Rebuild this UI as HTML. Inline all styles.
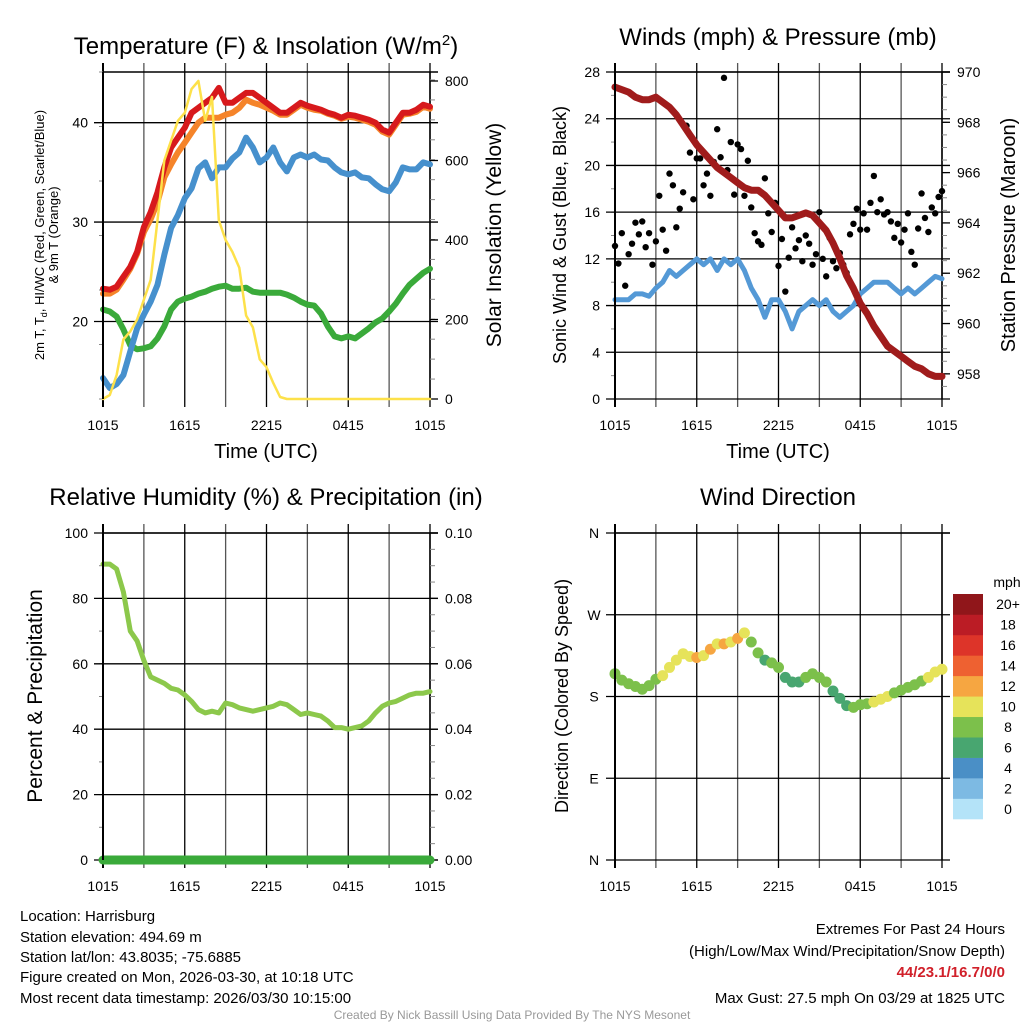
<!DOCTYPE html>
<html><head><meta charset="utf-8">
<style>
html,body{margin:0;padding:0;background:#fff;}
svg{display:block;font-family:"Liberation Sans",sans-serif;}
</style></head>
<body>
<svg id="chart" width="1024" height="1024" viewBox="0 0 1024 1024" xmlns="http://www.w3.org/2000/svg">
<rect width="1024" height="1024" fill="#fff"/>
<g id="panels"></g>
<g font-size="15" fill="#000">
<text x="20" y="921">Location: Harrisburg</text>
<text x="20" y="942">Station elevation: 494.69 m</text>
<text x="20" y="962">Station lat/lon: 43.8035; -75.6885</text>
<text x="20" y="982">Figure created on Mon, 2026-03-30, at 10:18 UTC</text>
<text x="20" y="1003">Most recent data timestamp: 2026/03/30 10:15:00</text>
</g>
<g font-size="15" text-anchor="end">
<text x="1005" y="934">Extremes For Past 24 Hours</text>
<text x="1005" y="956">(High/Low/Max Wind/Precipitation/Snow Depth)</text>
<text x="1005" y="977" fill="#d1202a" font-weight="bold">44/23.1/16.7/0/0</text>
<text x="1005" y="1003">Max Gust: 27.5 mph On 03/29 at 1825 UTC</text>
</g>
<text x="512" y="1019" text-anchor="middle" font-size="12" fill="#999">Created By Nick Bassill Using Data Provided By The NYS Mesonet</text>
</svg>
<script>
// ---- data (30-min steps, 1015 UTC -> 1015 UTC) ----
const timeLabels = ["1015","1615","2215","0415","1015"];
const tempRed = [23.3,23.2,23.5,24.5,25.5,27,29.5,31,33,35.5,37.5,38.5,39.5,41,41.5,42,42.5,43.5,42,42,42.5,43,43,42.5,42,41.5,41,41,41.5,42,41.7,41.5,41.3,41,40.8,40.5,40.8,40.7,40.5,40.3,40,39.3,39,40,41,41,41.3,41.8,41.6];
const temp9m = [22.8,22.8,23.2,24.2,25.3,26.8,29,30.3,32,34.5,35.8,37,38,39,40,40.5,40.5,40.5,40.8,41,41.5,42.3,42,41.8,41.5,41.2,40.8,40.8,41.3,41.8,41.5,41.3,41.2,40.9,40.7,40.4,40.6,40.5,40.3,40.1,39.8,39.1,38.8,39.8,40.8,40.9,41.1,41.6,41.4];
const windChill = [14.3,13.3,13.7,14.6,17,19.3,20.7,22,23.7,26.7,29.4,30.7,32.4,33.4,35.4,36,34.4,35.5,35.5,36.4,37,38.5,37.5,36,36.5,37.5,36,35.1,36.5,36.8,36.5,36.8,36.3,36.2,35.5,35,34.8,35,34.5,34.4,33.8,33.3,33.1,34,35.5,35.3,35.3,36,35.8];
const dewPoint = [21.2,21,20.5,19.2,17.6,17.2,17.3,17.5,18.3,19.5,21.2,22,22.3,22.5,22.8,23,23.3,23.5,23.6,23.3,23.3,23.4,23,22.9,22.9,22.9,22.9,22.7,22.4,22,21.7,21.6,20.8,19.5,18.5,18.3,18.5,18.3,18.8,19.3,19.9,20.3,21,21.8,22.8,23.7,24.3,24.9,25.3];
const solar = [0,10,60,150,170,200,250,300,450,600,650,700,720,780,800,700,760,450,400,370,330,210,180,100,80,40,5,0,0,0,0,0,0,0,0,0,0,0,0,0,0,0,0,0,0,0,0,0,0];
const windSpeed = [8.5,8.5,8.5,9,9,8.8,9.5,10,11,10.5,11,11.5,12,11.5,12,11,12,11.5,12,11,9.5,8.5,7,8.5,8.5,7.5,6,7.5,8,8.5,8,8.5,7.5,7,7.5,8,9,9.5,10,10,10,9.5,9,9.5,9,9.5,10,10.5,10.3];
const pressure = [969.4,969.3,969.2,969.0,968.9,968.9,969.0,968.8,968.6,968.3,967.9,967.5,967.1,966.8,966.5,966.2,966.0,965.8,965.6,965.4,965.3,965.3,965.1,964.8,964.5,964.2,964.2,964.3,964.4,964.3,964.0,963.7,963.2,962.6,961.9,961.4,960.8,960.4,959.9,959.5,959.1,958.9,958.7,958.5,958.3,958.2,958.0,957.9,957.9];
// gusts at 15-min steps
const gusts = [13.1,11.6,14.2,9.7,12.4,13.3,15.1,14.1,15.2,13.0,14.2,11.5,13.5,17.4,14.5,12.7,19.3,18.3,14.7,16.3,17.7,23.4,21.1,17.1,20.6,20.6,18.3,19.3,17.4,20.3,23.1,20.7,27.5,19.6,22.0,17.5,21.8,21.4,17.4,20.4,16.4,14.2,13.5,13.2,18.9,15.9,14.3,16.8,11.4,13.7,9.2,12.1,14.7,12.9,13.6,11.8,14.0,13.3,11.5,12.4,16.0,12.0,10.5,13.8,11.8,11.2,12.5,11.5,10.8,14.1,15.0,16.3,14.5,15.9,14.5,16.8,19.1,16.0,17.1,15.8,16.0,15.2,13.8,15.0,13.4,14.5,15.9,12.6,11.5,14.6,17.6,15.5,14.3,16.4,15.9,17.3,17.8];
const relHum = [90.5,90.5,89,82,70,67,61,56,55,54,52.5,52,50.5,48.5,46,45,45.5,45,48,47.5,46.5,46,45.5,46,46.5,47,48,47.5,46,44.5,45,44.5,44,42.5,40.5,40.5,40,40.5,41,42.5,45,47,48,48.5,49.5,50.5,51,51,51.5];
const precip = [0,0,0,0,0,0,0,0,0,0,0,0,0,0,0,0,0,0,0,0,0,0,0,0,0,0,0,0,0,0,0,0,0,0,0,0,0,0,0,0,0,0,0,0,0,0,0,0,0];
const windDir = [205,198,194,191,188,192,199,203,212,220,227,224,223,225,232,238,238,240,244,250,240,228,220,217,212,201,196,196,201,205,201,196,186,178,170,168,171,172,174,177,180,184,187,190,193,197,201,207,210];
const speedBins = ["0","2","4","6","8","10","12","14","16","18","20+"];
const binColors = ["#b4e3f8","#7dbae3","#4a8fc6","#48a670","#7cc04b","#e6e35a","#f6a641","#ee6131","#dd3429","#bb1c25","#90161a"];

const NS="http://www.w3.org/2000/svg";
const root=document.getElementById('panels');
function el(tag,attrs,parent){const e=document.createElementNS(NS,tag);for(const k in attrs)e.setAttribute(k,attrs[k]);(parent||root).appendChild(e);return e;}
function txt(s,attrs,parent){const e=el('text',attrs,parent);e.textContent=s;return e;}

function frame(g,P){
  for(let h=0;h<=8;h++){
    const x=P.x0+h*(P.x1-P.x0)/8;
    const l=el('line',{x1:x,x2:x,y1:P.y0-9,y2:P.y1+8,stroke:(h%2?"#555":"#000"),'stroke-width':(h==0?2:1.3)},g);
    
    
  }
  for(let i=0;i<timeLabels.length;i++){
    const x=P.x0+i*(P.x1-P.x0)/4;
    const t=txt(timeLabels[i],{x:x,y:P.y1+31,'text-anchor':'middle','font-size':14},g);
    
    
  }
  el('line',{x1:P.x0,x2:P.x1+8,y1:P.y0,y2:P.y0,stroke:"#000",'stroke-width':1.5},g);
  el('line',{x1:P.x1,x2:P.x1,y1:P.y0,y2:P.y1,stroke:"#000",'stroke-width':1.5},g);
}
function yTicks(g,P,vals,lo,hi,side,fmt){
  for(const v of vals){
    const y=P.y1-(v-lo)/(hi-lo)*(P.y1-P.y0);
    if(side==='left'){
      const l=el('line',{x1:P.x0-9,x2:P.x1+8,y1:y,y2:y,stroke:"#000",'stroke-width':1.3},g);
      
      
      const t=txt(fmt(v),{x:P.x0-15,y:y+5,'text-anchor':'end','font-size':14},g);
      
      
    } else {
      el('line',{x1:P.x1,x2:P.x1+8,y1:y,y2:y,stroke:"#000",'stroke-width':1.3},g);
      const t=txt(fmt(v),{x:P.x1+15,y:y+5,'text-anchor':'start','font-size':14},g);
      
      
    }
  }
}
function minor(g,P,lo,hi,step,side){
  for(let v=Math.ceil(lo/step)*step;v<=hi+1e-9;v+=step){
    const y=P.y1-(v-lo)/(hi-lo)*(P.y1-P.y0);
    if(side==='left') el('line',{x1:P.x0-4,x2:P.x0,y1:y,y2:y,stroke:"#888",'stroke-width':1},g);
    else el('line',{x1:P.x1,x2:P.x1+5,y1:y,y2:y,stroke:"#888",'stroke-width':1},g);
  }
}
function path(g,P,arr,lo,hi,color,w,name){
  const n=arr.length;
  const d=arr.map((v,i)=>(i?'L':'M')+(P.x0+i*(P.x1-P.x0)/(n-1)).toFixed(1)+','+(P.y1-(v-lo)/(hi-lo)*(P.y1-P.y0)).toFixed(1)).join('');
  const p=el('path',{d:d,fill:'none',stroke:color,'stroke-width':w,'stroke-linejoin':'round','stroke-linecap':'round'},g);
  
  
  return p;
}
function title(g,s,x,y,name,size){const t=txt(s,{x:x,y:y,'text-anchor':'middle','font-size':size||24},g);return t;}
function vtitle(g,s,x,y,name,size){const t=txt(s,{x:0,y:0,'text-anchor':'middle','font-size':size,transform:`translate(${x},${y}) rotate(-90)`},g);return t;}

// ---------- Panel 1: temperature ----------
{
const P={x0:103,x1:430,y0:72,y1:399};
const g=el('g',{});


const lo=12.2,hi=45.1;
frame(g,P);
minor(g,P,15,45,5,'left');
minor(g,P,0,820,50,'right');
yTicks(g,P,[20,30,40],lo,hi,'left',v=>v);
const sLo=0,sHi=(P.y1-P.y0)/(79.5/200);
yTicks(g,P,[0,200,400,600,800],sLo,sHi,'right',v=>v);
path(g,P,dewPoint,lo,hi,"#3aaa3a",6,'dewpoint-line');
path(g,P,windChill,lo,hi,"#4690cd",6,'windchill-line');
path(g,P,temp9m,lo,hi,"#f5842a",6,'temp-9m-line');
path(g,P,tempRed,lo,hi,"#d7191c",6,'temp-2m-line');
path(g,P,solar,sLo,sHi,"#fde14a",2.5,'solar-line');
el('line',{x1:P.x0,x2:P.x0,y1:P.y0,y2:P.y1,stroke:"#000",'stroke-width':2},g);
const t=txt('',{x:266,y:54,'text-anchor':'middle','font-size':24},g);


t.innerHTML='Temperature (F) &amp; Insolation (W/m<tspan dy="-9" font-size="15">2</tspan><tspan dy="9">)</tspan>';
title(g,'Time (UTC)',266,458,'x-axis-title',20);
const lt=txt('',{x:0,y:0,'text-anchor':'middle','font-size':13,transform:'translate(44,235) rotate(-90)'},g);


lt.innerHTML='2m T, T<tspan dy="3" font-size="9">d</tspan><tspan dy="-3">, HI/WC (Red, Green, Scarlet/Blue)</tspan>';
vtitle(g,'& 9m T (Orange)',58,235,'y-axis-title-line2',13);
vtitle(g,'Solar Insolation (Yellow)',501,235,'y2-axis-title',21);
}
// ---------- Panel 2: winds ----------
{
const P={x0:615,x1:942,y0:72,y1:399};
const g=el('g',{});


frame(g,P);
minor(g,P,0,28,2,'left');
minor(g,P,957,970,0.5,'right');
yTicks(g,P,[0,4,8,12,16,20,24,28],0,28,'left',v=>v);
yTicks(g,P,[958,960,962,964,966,968,970],957,970,'right',v=>v);
path(g,P,windSpeed,0,28,"#5499d6",5,'wind-speed-line');
gusts.forEach((v,i)=>{
  const c=el('circle',{cx:P.x0+i*(P.x1-P.x0)/(gusts.length-1),cy:P.y1-v/28*(P.y1-P.y0),r:3.2,fill:"#000"},g);
  
  
});
path(g,P,pressure,957,970,"#a01c1c",7,'pressure-line');
el('line',{x1:P.x0,x2:P.x0,y1:P.y0,y2:P.y1,stroke:"#000",'stroke-width':2},g);
title(g,'Winds (mph) & Pressure (mb)',778,45,'winds-title',24);
title(g,'Time (UTC)',778,458,'x-axis-title',20);
vtitle(g,'Sonic Wind & Gust (Blue, Black)',566,235,'y-axis-title',18);
vtitle(g,'Station Pressure (Maroon)',1015,235,'y2-axis-title',20);
}
// ---------- Panel 3: RH ----------
{
const P={x0:103,x1:430,y0:533,y1:860};
const g=el('g',{});


frame(g,P);
minor(g,P,0,100,10,'left');
minor(g,P,0,100,5,'right');
yTicks(g,P,[0,20,40,60,80,100],0,100,'left',v=>v);
yTicks(g,P,[0,0.02,0.04,0.06,0.08,0.10],0,0.1,'right',v=>v.toFixed(2));
path(g,P,relHum,0,100,"#8cc84b",5,'humidity-line');
path(g,P,precip,0,0.1,"#3aaa3a",9,'precip-line');
el('line',{x1:P.x0,x2:P.x0,y1:P.y0,y2:P.y1,stroke:"#000",'stroke-width':2},g);
title(g,'Relative Humidity (%) & Precipitation (in)',266,505,'humidity-title',24);
vtitle(g,'Percent & Precipitation',42,696,'y-axis-title',21);
}
// ---------- Panel 4: wind direction ----------
{
const P={x0:615,x1:942,y0:533,y1:860};
const g=el('g',{});


frame(g,P);
const dirLabels=["N","E","S","W","N"];
[0,90,180,270,360].forEach((v,i)=>{
  const y=P.y1-v/360*(P.y1-P.y0);
  el('line',{x1:P.x0-9,x2:P.x1+8,y1:y,y2:y,stroke:"#000",'stroke-width':1.3},g);
  const t=txt(dirLabels[i],{x:P.x0-21,y:y+5,'text-anchor':'middle','font-size':14},g);
  
  
});
windDir.forEach((v,i)=>{
  const s=windSpeed[i];
  const b=Math.max(0,Math.min(10,Math.floor(s/2)));
  const c=el('circle',{cx:P.x0+i*(P.x1-P.x0)/(windDir.length-1),cy:P.y1-v/360*(P.y1-P.y0),r:5.5,fill:binColors[b]},g);
  
  
});
el('line',{x1:P.x0,x2:P.x0,y1:P.y0,y2:P.y1,stroke:"#000",'stroke-width':2},g);
title(g,'Wind Direction',778,505,'direction-title',24);
vtitle(g,'Direction (Colored By Speed)',568,696,'y-axis-title',18);
const lg=el('g',{},g);


const bh=225/speedBins.length;
speedBins.forEach((lab,i)=>{
  const y=819-(i+1)*bh;
  const r=el('rect',{x:953,y:y,width:30,height:bh+0.3,fill:binColors[i]},lg);
  
  
  const t=txt(lab,{x:1008,y:y+bh/2+5,'text-anchor':'middle','font-size':14},lg);
  
  
});
const mt=txt('mph',{x:1007,y:587,'text-anchor':'middle','font-size':14},lg);


}
</script>
</body></html>
